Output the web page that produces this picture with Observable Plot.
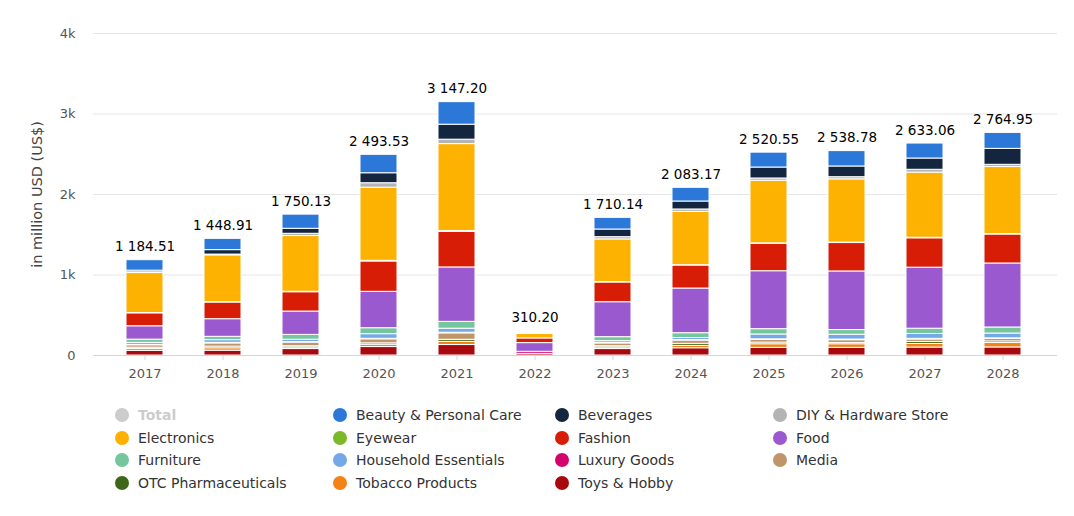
<!DOCTYPE html>
<html>
<head>
<meta charset="utf-8">
<script src="https://cdn.jsdelivr.net/npm/d3@7"></script>
<script src="https://cdn.jsdelivr.net/npm/@observablehq/plot@0.6"></script>
<style>
  body { margin: 0; background: #fff; font-family: "DejaVu Sans", sans-serif; }
  #chart { position: relative; width: 1074px; height: 516px; }
  #legend { position: absolute; left: 0; top: 407px; width: 1074px; }
  .item { position: absolute; display: flex; align-items: center; font-size: 14px; color: #333; white-space: nowrap; }
  .dot { width: 14px; height: 14px; border-radius: 50%; margin-right: 9px; flex: none; }
</style>
</head>
<body>
<div id="chart"></div>
<script>
const years = ["2017","2018","2019","2020","2021","2022","2023","2024","2025","2026","2027","2028"];
const totals = [1184.51, 1448.91, 1750.13, 2493.53, 3147.20, 310.20, 1710.14, 2083.17, 2520.55, 2538.78, 2633.06, 2764.95];

const beauty      = [130, 140, 176, 229, 280, 0, 145, 170, 185, 191, 186, 198];
const beverages   = [20, 55, 62, 124, 186, 0, 95, 99, 136, 133, 140, 198];
const diy         = [10, 10, 28, 55, 55, 0, 28, 30, 28, 27, 35, 28];
const electronics = [497, 581, 692, 909, 1080, 55, 530, 662, 778, 785, 809, 832];
const eyewear     = [3, 5, 6, 8, 10, 0, 5, 4, 6, 6, 7, 6];
const fashion     = [161, 207, 240, 377, 442, 58, 245, 286, 340, 353, 365, 360];
const food        = [166, 219, 290, 452, 676, 108, 434, 555, 720, 728, 758, 795];
const furniture   = [40, 41, 60, 74, 85, 0, 50, 60, 66, 58, 66, 75];
const household   = [25, 33, 30, 57, 50, 0, 22, 25, 60, 60, 60, 60];
const luxury      = [5, 8, 6, 7, 8, 25, 6, 7, 8, 8, 8, 8];
const media       = [30, 40, 45, 50, 80, 0, 35, 40, 33, 35, 30, 30];
const otc         = [15, 20, 15, 18, 25, 0, 15, 25, 20, 15, 25, 20];
const tobacco     = [24, 30, 20, 28, 40, 0, 20, 30, 45, 45, 45, 55];
const toys        = [58, 60, 80, 105, 130, 21, 80, 90, 95, 95, 99, 100];

const legendNames = ["Total", "Beauty & Personal Care", "Beverages", "DIY & Hardware Store",
  "Electronics", "Eyewear", "Fashion", "Food",
  "Furniture", "Household Essentials", "Luxury Goods", "Media",
  "OTC Pharmaceuticals", "Tobacco Products", "Toys & Hobby"];
const legendColors = ["#cccccc", "#2b78d9", "#13253f", "#b4b4b4",
  "#fdb100", "#7db82a", "#d71d05", "#9b59d0",
  "#74c69d", "#74a8e6", "#d4036c", "#c0956a",
  "#3d6616", "#f48215", "#a8090e"];

// stacking order: bottom first
const stackSeries = [
  ["Toys & Hobby", toys], ["Tobacco Products", tobacco], ["OTC Pharmaceuticals", otc],
  ["Media", media], ["Luxury Goods", luxury], ["Household Essentials", household],
  ["Furniture", furniture], ["Food", food], ["Fashion", fashion], ["Eyewear", eyewear],
  ["Electronics", electronics], ["DIY & Hardware Store", diy], ["Beverages", beverages],
  ["Beauty & Personal Care", beauty]
];

const rows = [];
for (const [cat, vals] of stackSeries) {
  vals.forEach((v, i) => { if (v > 0) rows.push({year: years[i], cat, value: v}); });
}
const totalRows = years.map((y, i) => ({year: y, total: totals[i]}));
const fmt = v => d3.format(",.2f")(v).replace(/,/g, " ");

const plot = Plot.plot({
  width: 1074,
  height: 390,
  marginLeft: 93,
  marginRight: 17,
  marginTop: 33,
  marginBottom: 35,
  style: {fontFamily: "DejaVu Sans, sans-serif", fontSize: "13px", color: "#555"},
  x: {domain: years, paddingInner: 0.52, paddingOuter: 0.26, insetLeft: 8.6, insetRight: 10.6, label: null},
  y: {domain: [0, 4000], label: null},
  color: {domain: legendNames.slice(1), range: legendColors.slice(1)},
  marks: [
    Plot.gridY({ticks: [0, 1000, 2000, 3000, 4000], stroke: "#e6e6e6", strokeOpacity: 1}),
    Plot.axisY({ticks: [0, 1000, 2000, 3000, 4000], tickSize: 0, tickPadding: 18,
      tickFormat: d => d === 0 ? "0" : (d / 1000) + "k", fill: "#555", fontSize: 13}),
    Plot.axisY({ticks: [], tickSize: 0, label: "in million USD (US$)", labelAnchor: "center",
      labelArrow: "none", labelOffset: 62, fontSize: 14.5, fill: "#444"}),
    Plot.barY(rows, {x: "year", y: "value", fill: "cat", stroke: "white", strokeWidth: 1}),
    Plot.ruleY([0], {stroke: "#ccd6eb"}),
    Plot.axisX({tickSize: 5, stroke: "#ccd6eb", tickPadding: 8, fill: "#555", fontSize: 13}),
    Plot.text(totalRows, {x: "year", y: "total", text: d => fmt(d.total), dy: -13,
      fill: "#000", fontSize: 13.5, fontWeight: 500})
  ]
});
document.getElementById("chart").appendChild(plot);

const legend = document.createElement("div");
legend.id = "legend";
const colX = [115, 333, 555, 773];
const rowY = [0, 22.7, 45.4, 68.1];
legendNames.forEach((name, i) => {
  const item = document.createElement("div");
  item.className = "item";
  item.style.left = colX[i % 4] + "px";
  item.style.top = rowY[Math.floor(i / 4)] + "px";
  const dot = document.createElement("span");
  dot.className = "dot";
  dot.style.background = legendColors[i];
  const label = document.createElement("span");
  label.textContent = name;
  if (i === 0) { label.style.color = "#cccccc"; label.style.fontWeight = "bold"; }
  item.appendChild(dot); item.appendChild(label);
  legend.appendChild(item);
});
document.getElementById("chart").appendChild(legend);
</script>
</body>
</html>
